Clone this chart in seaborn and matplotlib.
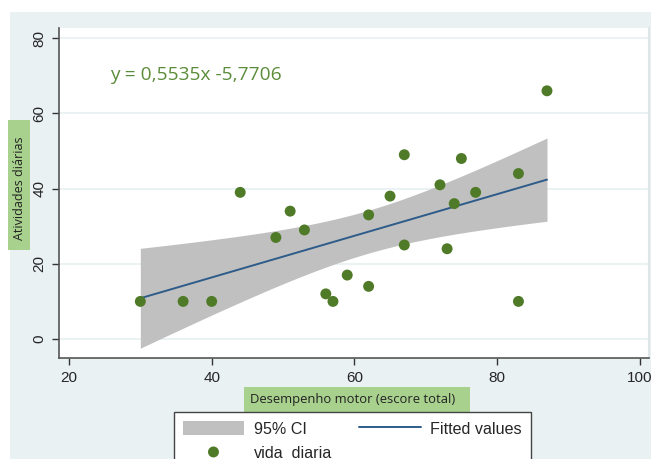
import numpy as np
import pandas as pd
import matplotlib
matplotlib.use("Agg")
import matplotlib.pyplot as plt
import seaborn as sns
from matplotlib.patches import Rectangle

# Scores: motor performance (x) vs. daily-life activities (y)
motor = [30, 36, 40, 44, 49, 51, 53, 56, 57, 59, 62, 62, 65, 67, 67, 72, 73, 74, 75, 77, 83, 83, 87]
vida = [10, 10, 10, 39, 27, 34, 29, 12, 10, 17, 33, 14, 38, 49, 25, 41, 24, 36, 48, 39, 44, 10, 66]

# Fitted line as reported in the equation label
slope = 0.5535
intercept = -5.7706
equation = "y = 0,5535x -5,7706"

x_ticks = [20, 40, 60, 80, 100]
y_ticks = [0, 20, 40, 60, 80]

df = pd.DataFrame({"motor": motor, "vida_diaria": vida})

# 95% confidence band of the mean prediction around the fitted line
x = np.asarray(motor, float)
y = np.asarray(vida, float)
n = len(x)
resid = y - (intercept + slope * x)
s = np.sqrt(np.sum(resid ** 2) / (n - 2))
sxx = np.sum((x - x.mean()) ** 2)
t_crit = 2.0796  # t(0.975, df=21)
xg = np.linspace(x.min(), x.max(), 200)
yg = intercept + slope * xg
half = t_crit * s * np.sqrt(1.0 / n + (xg - x.mean()) ** 2 / sxx)
fit = pd.DataFrame({"motor": xg, "fitted": yg})

sns.set_theme(style="white")
plt.rcParams["font.family"] = ["Liberation Sans", "DejaVu Sans"]

W, H = 651, 459
fig = plt.figure(figsize=(W / 100, H / 100), dpi=100)
fig.patch.set_facecolor("white")


def px_rect(x0, y0, x1, y1, color):
    """Rectangle given in pixel coordinates from the top-left corner."""
    return Rectangle((x0 / W, 1 - y1 / H), (x1 - x0) / W, (y1 - y0) / H,
                     facecolor=color, edgecolor="none")


# light panel behind the graph, plus the shaded boxes of the axis titles
bg = fig.add_axes([0, 0, 1, 1], zorder=-10)
bg.set_axis_off()
bg.set_xlim(0, 1)
bg.set_ylim(0, 1)
bg.add_patch(px_rect(10, 12, W, H, "#eaf1f3"))
bg.add_patch(px_rect(8, 120, 30, 250, "#a9d18e"))
bg.add_patch(px_rect(244, 387, 470, 412, "#a9d18e"))

ax = fig.add_axes([59 / W, 1 - 358 / H, (649 - 59) / W, (358 - 28) / H], zorder=1)
ax.set_facecolor("white")

ax.fill_between(xg, yg - half, yg + half, color="#c0c0c0", linewidth=0,
                label="95% CI", zorder=1)
sns.lineplot(data=fit, x="motor", y="fitted", ax=ax, color="#2e5c8a", linewidth=1.4,
             label="Fitted values", zorder=2)
sns.scatterplot(data=df, x="motor", y="vida_diaria", ax=ax, color="#4f7a27", s=62,
                edgecolor="none", label="vida_diaria", zorder=3)

ax.set_xlim(18.6, 101.3)
ax.set_ylim(-5.05, 82.7)
ax.set_xticks(x_ticks)
ax.set_yticks(y_ticks)
ax.set_xticklabels([str(v) for v in x_ticks], fontsize=11)
ax.set_yticklabels([str(v) for v in y_ticks], fontsize=11, rotation=90, va="center")
ax.tick_params(axis="both", length=5, width=1, color="#333333", pad=4, direction="out",
               left=True, bottom=True)
ax.yaxis.grid(True, color="#e8f0f2", linewidth=1.2)
ax.set_axisbelow(True)
for side in ["top", "right"]:
    ax.spines[side].set_visible(False)
for side in ["left", "bottom"]:
    ax.spines[side].set_color("#555555")
    ax.spines[side].set_linewidth(1.2)
ax.set_xlabel("")
ax.set_ylabel("")
ax.get_legend().remove()

# thin border on the right of the plotting area
ax.axvline(101.3, color="#dfe6e8", linewidth=1.5, clip_on=False)

ax.text(30 - (141 - 111) / 7.14, 70.1, equation, color="#5b8c3a", fontsize=13.8,
        family=["Open Sans", "DejaVu Sans"], va="center", ha="left")

# axis titles
fig.text(19.5 / W, 1 - 188 / H, "Atividades diárias", rotation=90, ha="center", va="center",
         fontsize=9, family=["Open Sans", "DejaVu Sans"], color="#222222")
fig.text(353 / W, 1 - 399.5 / H, "Desempenho motor (escore total)", ha="center", va="center",
         fontsize=9.4, family=["Open Sans", "DejaVu Sans"], color="#222222")

h, l = ax.get_legend_handles_labels()
order = {lab: hh for hh, lab in zip(h, l)}
leg = fig.legend([order["95% CI"], order["vida_diaria"], order["Fitted values"]],
                 ["95% CI", "vida_diaria", "Fitted values"],
                 ncol=2, loc="upper left",
                 bbox_to_anchor=(174 / W, 1 - 412 / H),
                 frameon=True, fancybox=False, fontsize=11.6,
                 handlelength=3.8, handleheight=1.0, handletextpad=0.6,
                 borderpad=0.55, labelspacing=0.5, columnspacing=1.7,
                 borderaxespad=0, framealpha=1, facecolor="white")
leg.get_frame().set_edgecolor("#444444")
leg.get_frame().set_linewidth(1.0)

fig.savefig("out.png", dpi=100)
